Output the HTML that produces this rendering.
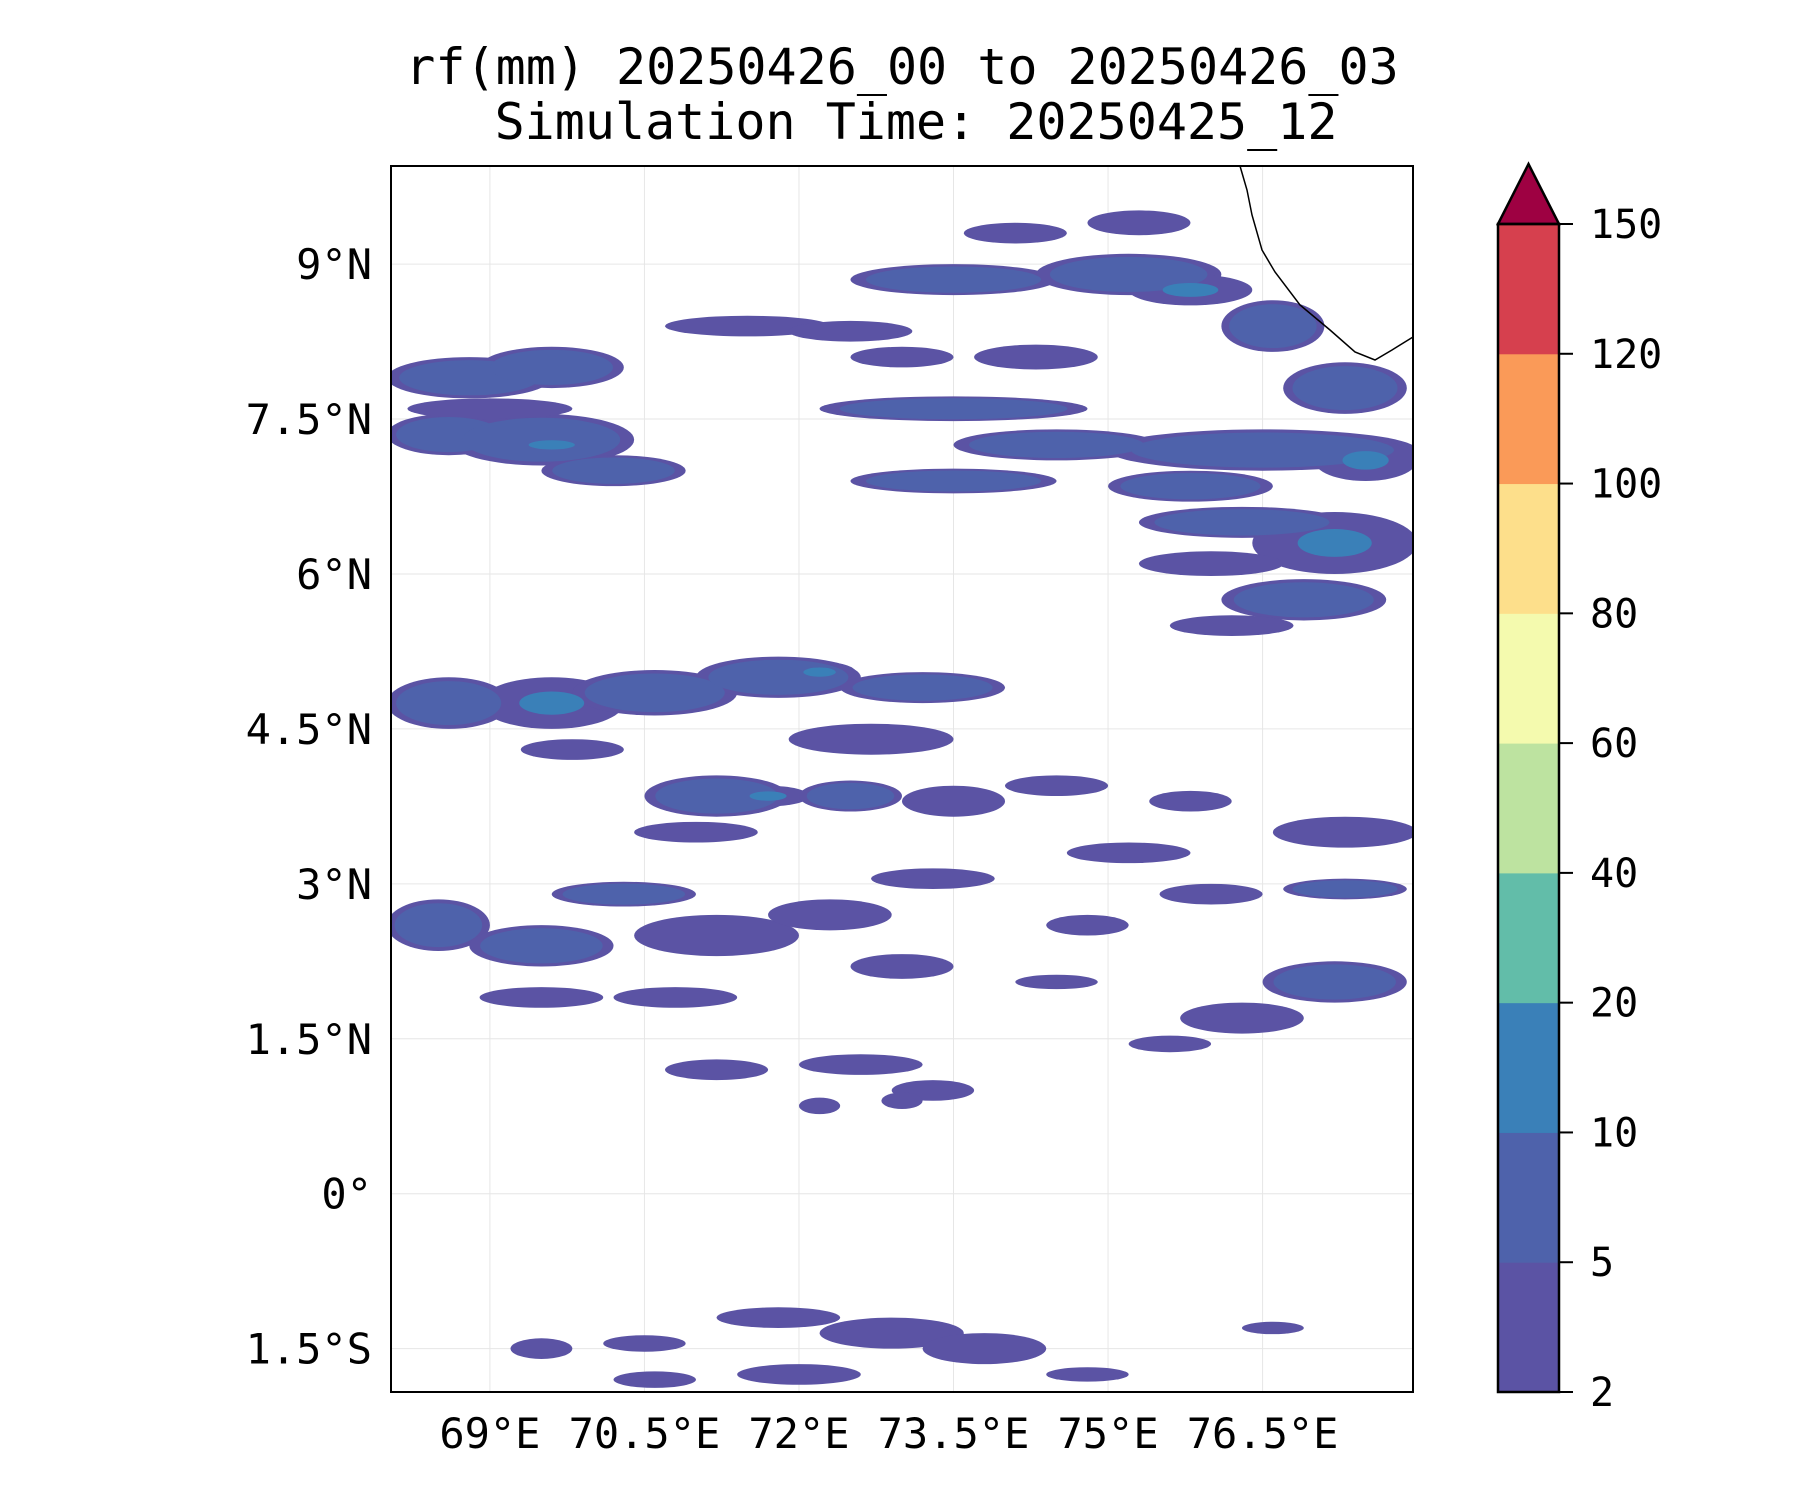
<!DOCTYPE html>
<html><head><meta charset="utf-8"><style>
html,body{margin:0;padding:0;background:#fff;}
svg{display:block;font-family:"DejaVu Sans Mono","Liberation Mono",monospace;}
</style></head><body>
<svg id="chart" width="1800" height="1500" viewBox="0 0 1800 1500" xmlns="http://www.w3.org/2000/svg">
<text x="902" y="84" font-size="50" text-anchor="middle">rf(mm) 20250426_00 to 20250426_03</text>
<text x="916" y="139" font-size="50" text-anchor="middle">Simulation Time: 20250425_12</text>
<g id="grid"></g>
<g id="rain"></g>
<path d="M1240,166 L1247,190 L1252,215 L1262,250 L1275,272 L1300,305 L1330,330 L1355,352 L1375,360 L1392,350 L1413,337" fill="none" stroke="#000" stroke-width="1.5"/>
<rect x="391" y="166" width="1022" height="1226" fill="none" stroke="#000" stroke-width="2"/>
<g id="axes"></g>
<g id="cbar"></g>
</svg>
<script>
const lonTicks=[69,70.5,72,73.5,75,76.5];
const lonLabels=["69°E","70.5°E","72°E","73.5°E","75°E","76.5°E"];
const latTicks=[9,7.5,6,4.5,3,1.5,0,-1.5];
const latLabels=["9°N","7.5°N","6°N","4.5°N","3°N","1.5°N","0°","1.5°S"];
const levelBounds=[2,5,10,20,40,60,80,100,120,150];
const levelColors=["#5b53a4","#4e62ab","#3a80b8","#62bda9","#bde3a0","#f4faae","#fddf8b","#fa9a58","#d6404e"];
// rain blobs: lon, lat, half-width (deg), half-height (deg), level index
const blobLon=[68.8,69.6,68.6,69.5,69.6,70.2,69.0,71.5,72.5,73.5,75.2,75.8,76.6,77.3,74.3,73.0,75.3,74.1,73.5,74.5,76.5,77.5,73.5,75.8,76.3,77.2,76.0,76.9,76.2,68.6,69.6,70.6,71.8,72.2,73.2,72.7,69.8,71.2,71.7,72.5,71.0,73.5,74.5,75.8,77.3,75.2,68.5,69.5,70.3,71.2,72.3,73.3,73.0,77.3,76.0,74.8,69.5,70.8,77.2,76.3,75.6,74.5,71.2,72.6,73.3,72.2,73.0,69.5,70.5,71.8,72.9,73.8,72.0,70.6,74.8,76.6];
const blobLat=[7.9,8.0,7.35,7.3,7.25,7.0,7.6,8.4,8.35,8.85,8.9,8.75,8.4,7.8,8.1,8.1,9.4,9.3,7.6,7.25,7.2,7.1,6.9,6.85,6.5,6.3,6.1,5.75,5.5,4.75,4.75,4.85,5.0,5.05,4.9,4.4,4.3,3.85,3.85,3.85,3.5,3.8,3.95,3.8,3.5,3.3,2.6,2.4,2.9,2.5,2.7,3.05,2.2,2.95,2.9,2.6,1.9,1.9,2.05,1.7,1.45,2.05,1.2,1.25,1.0,0.85,0.9,-1.5,-1.45,-1.2,-1.35,-1.5,-1.75,-1.8,-1.75,-1.3];
const blobRx=[0.8,0.7,0.6,0.9,0.5,0.7,0.8,0.8,0.6,1.0,0.9,0.6,0.5,0.6,0.6,0.5,0.5,0.5,1.3,1.0,1.5,0.5,1.0,0.8,1.0,0.8,0.7,0.8,0.6,0.6,0.7,0.8,0.8,0.35,0.8,0.8,0.5,0.7,0.4,0.5,0.6,0.5,0.5,0.4,0.7,0.6,0.5,0.7,0.7,0.8,0.6,0.6,0.5,0.6,0.5,0.4,0.6,0.6,0.7,0.6,0.4,0.4,0.5,0.6,0.4,0.2,0.2,0.3,0.4,0.6,0.7,0.6,0.6,0.4,0.4,0.3];
const blobRy=[0.2,0.2,0.2,0.25,0.1,0.15,0.1,0.1,0.1,0.15,0.2,0.15,0.25,0.25,0.12,0.1,0.12,0.1,0.12,0.15,0.2,0.2,0.12,0.15,0.15,0.3,0.12,0.2,0.1,0.25,0.25,0.22,0.2,0.1,0.15,0.15,0.1,0.2,0.1,0.15,0.1,0.15,0.1,0.1,0.15,0.1,0.25,0.2,0.12,0.2,0.15,0.1,0.12,0.1,0.1,0.1,0.1,0.1,0.2,0.15,0.08,0.07,0.1,0.1,0.1,0.08,0.08,0.1,0.08,0.1,0.15,0.15,0.1,0.08,0.07,0.06];
const blobLevel=[1,1,1,1,2,1,0,0,0,1,1,2,1,1,0,0,0,0,1,1,1,2,1,1,1,2,0,1,0,1,2,1,1,2,1,0,0,1,2,1,0,0,0,0,0,0,1,1,1,0,0,0,0,1,0,0,0,0,1,0,0,0,0,0,0,0,0,0,0,0,0,0,0,0,0,0];

const NS="http://www.w3.org/2000/svg";
const X0=391,X1=1413,Y0=166,Y1=1392,LON0=68.04,LON1=77.96,LAT0=-1.92,LAT1=9.95;
const xs=v=>X0+(v-LON0)/(LON1-LON0)*(X1-X0);
const ys=v=>Y1-(v-LAT0)/(LAT1-LAT0)*(Y1-Y0);
function mk(tag,attrs,parent){const e=document.createElementNS(NS,tag);for(const k in attrs)e.setAttribute(k,attrs[k]);parent.appendChild(e);return e;}
const grid=document.getElementById('grid'),rain=document.getElementById('rain'),axes=document.getElementById('axes'),cbar=document.getElementById('cbar');
lonTicks.forEach((t,i)=>{
  const l=mk('line',{x1:xs(t),x2:xs(t),y1:Y0,y2:Y1,stroke:'#e6e6e6','stroke-width':1},grid);
  
  
  const tx=mk('text',{x:xs(t),y:1448,'font-size':42,'text-anchor':'middle'},axes);
  tx.textContent=lonLabels[i];
  
  
});
latTicks.forEach((t,i)=>{
  const l=mk('line',{x1:X0,x2:X1,y1:ys(t),y2:ys(t),stroke:'#e6e6e6','stroke-width':1},grid);
  
  
  const tx=mk('text',{x:372,y:ys(t)+15,'font-size':42,'text-anchor':'end'},axes);
  tx.textContent=latLabels[i];
  
  
});
const pxPerLon=(X1-X0)/(LON1-LON0),pxPerLat=(Y1-Y0)/(LAT1-LAT0);
const clip=mk('clipPath',{id:'mapclip'},document.getElementById('chart'));
mk('rect',{x:X0,y:Y0,width:X1-X0,height:Y1-Y0},clip);
rain.setAttribute('clip-path','url(#mapclip)');
[0,1,2,3].forEach(lv=>{
  blobLon.forEach((lon,i)=>{
    if(blobLevel[i]<lv)return;
    const s=lv===0?1:(lv===1?0.85:(lv===2?0.45:0.25));
    if(blobLevel[i]>lv&&lv>0)return;
    const e=mk('ellipse',{cx:xs(lon),cy:ys(blobLat[i]),rx:blobRx[i]*pxPerLon*(lv===blobLevel[i]?s:1),ry:blobRy[i]*pxPerLat*(lv===blobLevel[i]?s:1),fill:levelColors[lv]},rain);
    
    
  });
});
const CX=1498,CW=61,CT=224,CB=1392,step=(CB-CT)/(levelColors.length);
levelColors.forEach((c,i)=>{
  const r=mk('rect',{x:CX,y:CB-(i+1)*step,width:CW,height:step+0.5,fill:c},cbar);
  
  
});
const tri=mk('polygon',{points:`${CX},${CT} ${CX+CW/2},164 ${CX+CW},${CT}`,fill:'#9e0142',stroke:'#000','stroke-width':2.5},cbar);


const fr=mk('rect',{x:CX,y:CT,width:CW,height:CB-CT,fill:'none',stroke:'#000','stroke-width':2.5},cbar);


levelBounds.forEach((b,i)=>{
  const y=CB-i*step;
  mk('line',{x1:CX+CW,x2:CX+CW+14,y1:y,y2:y,stroke:'#000','stroke-width':2},cbar);
  const t=mk('text',{x:1590,y:y+14,'font-size':40},cbar);
  t.textContent=b;
  
  
});
</script>
</body></html>
